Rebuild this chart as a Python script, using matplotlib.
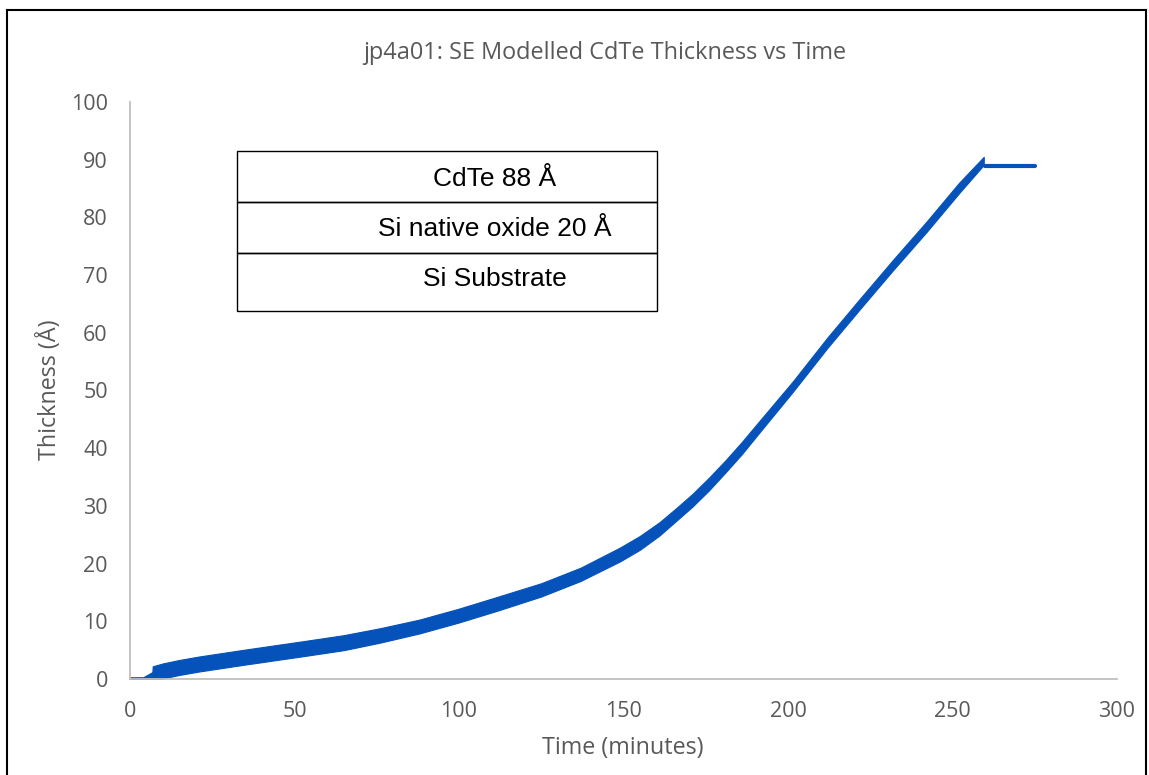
import matplotlib.pyplot as plt
from matplotlib.patches import Rectangle
from matplotlib.lines import Line2D

# Band of modelled thickness (scatter is dense, so draw its envelope)
time_min = [0, 4, 6.8, 6.9, 10, 15, 21, 35, 52, 65, 76, 88, 100, 112, 125,
            137, 149, 155, 161, 166, 171, 176, 181, 186, 191, 201.5, 212, 222,
            232, 242, 252, 259.5]
thick_lo = [-0.3, -0.3, -0.3, -0.3, 0.1, 0.7, 1.3, 2.5, 3.9, 5.0, 6.3, 7.9,
            9.8, 11.9, 14.3, 17.0, 20.4, 22.4, 24.9, 27.4, 29.9, 32.7, 35.8,
            39.0, 42.5, 49.8, 57.4, 64.2, 70.9, 77.4, 84.2, 89.1]
thick_hi = [0.3, 0.3, 1.2, 2.2, 2.7, 3.3, 3.9, 5.1, 6.5, 7.6, 8.8, 10.3,
            12.2, 14.3, 16.6, 19.3, 22.8, 24.8, 27.2, 29.6, 32.1, 34.9, 37.9,
            41.1, 44.5, 51.6, 59.2, 66.0, 72.7, 79.2, 86.0, 90.5]

# flat part after growth stopped
tail_time = [260, 275]
tail_thick = [88.9, 88.9]

layers = ["CdTe 88 Å", "Si native oxide 20 Å", "Si Substrate"]

W, H = 1149, 775
blue = '#0452BA'
grey = '#595959'
plt.rcParams['font.family'] = ['Open Sans', 'DejaVu Sans']

fig = plt.figure(figsize=(W / 100, H / 100), dpi=100)
ax = fig.add_axes([130 / W, 1 - 679 / H, (1117 - 130) / W, (679 - 102) / H])

ax.fill_between(time_min, thick_lo, thick_hi, color=blue, lw=0.8, edgecolor=blue)
ax.plot(tail_time, tail_thick, color=blue, lw=3, solid_capstyle='round')

ax.set_xlim(0, 300)
ax.set_ylim(0, 100)
ax.set_xticks(range(0, 301, 50))
ax.set_yticks(range(0, 101, 10))
ax.tick_params(length=0, labelsize=15.5, colors=grey)
ax.tick_params(axis='y', pad=16)
ax.tick_params(axis='x', pad=16)
for side in ['top', 'right']:
    ax.spines[side].set_visible(False)
for side in ['left', 'bottom']:
    ax.spines[side].set_color('#bfbfbf')
    ax.spines[side].set_linewidth(1.3)

fig.text(605 / W, 1 - 53 / H, 'jp4a01: SE Modelled CdTe Thickness vs Time',
         ha='center', va='center', fontsize=16.9, color=grey)
fig.text(623 / W, 1 - 748 / H, 'Time (minutes)', ha='center', va='center',
         fontsize=16.8, color=grey)
fig.text(49 / W, 1 - 390 / H, 'Thickness (Å)', ha='center', va='center',
         fontsize=16.8, color=grey, rotation=90)

# layer stack inset
row_edges = [151, 202, 253, 311]
text_y = [179, 229, 279]
for i, name in enumerate(layers):
    top, bot = row_edges[i], row_edges[i + 1]
    fig.add_artist(Rectangle((237 / W, 1 - bot / H), 420 / W, (bot - top) / H,
                             transform=fig.transFigure, fill=False,
                             edgecolor='black', lw=1))
    fig.text(495 / W, 1 - text_y[i] / H, name, ha='center', va='center',
             fontsize=19, family=['Liberation Sans', 'DejaVu Sans'])

# outer frame
fig.add_artist(Line2D([7 / W, 7 / W], [0, 1 - 10 / H], transform=fig.transFigure,
                      color='black', lw=1.5))
fig.add_artist(Line2D([7 / W, 1146 / W], [1 - 10 / H, 1 - 10 / H],
                      transform=fig.transFigure, color='black', lw=1.5))
fig.add_artist(Line2D([1146 / W, 1146 / W], [0, 1 - 10 / H],
                      transform=fig.transFigure, color='black', lw=1.5))

fig.savefig('out.png', dpi=100)
